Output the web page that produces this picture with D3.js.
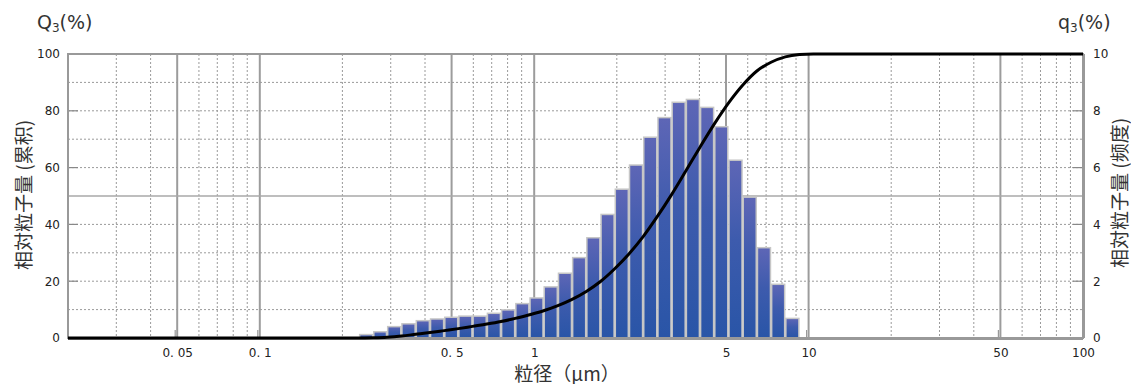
<!DOCTYPE html>
<html>
<head>
<meta charset="utf-8">
<script src="https://d3js.org/d3.v7.min.js"></script>
<title>粒度分布</title>
<style>
body {
	margin: 0;
	background: #fff;
}

#root {
	width: 1131px;
	height: 384px;
	display: block;
}

.tickText {
	font-family: "DejaVu Sans", sans-serif;
	font-size: 12px;
	fill: #222;
}

.cjkTitle {
	font-family: "Noto Sans CJK JP", sans-serif;
	font-size: 19px;
	fill: #333;
}

.unitTitle {
	font-family: "DejaVu Sans", sans-serif;
	font-size: 19px;
	fill: #333;
}
</style>
</head>
<body>
<svg id="root"></svg>

<script>
// histogram bins (µm) and frequency q3 (%)
let binEdges = [0.23, 0.259, 0.291, 0.328, 0.37, 0.417, 0.47, 0.529, 0.596, 0.672, 0.757, 0.853, 0.961,
	1.082, 1.22, 1.374, 1.548, 1.744, 1.965, 2.214, 2.495, 2.811, 3.167, 3.568, 4.02, 4.529, 5.103,
	5.749, 6.478, 7.298, 8.222, 9.264]
let q3Values = [0.12, 0.22, 0.40, 0.50, 0.61, 0.67, 0.73, 0.77, 0.77, 0.87, 0.99, 1.21, 1.41, 1.80,
	2.28, 2.83, 3.53, 4.35, 5.24, 6.09, 7.07, 7.76, 8.30, 8.40, 8.12, 7.44, 6.26, 4.96, 3.18, 1.89, 0.69]

// cumulative curve Q3 (%)
let cumSizes = [0.02, 0.23, 0.259, 0.291, 0.328, 0.37, 0.417, 0.47, 0.529, 0.596, 0.672, 0.757, 0.853,
	0.961, 1.082, 1.22, 1.374, 1.548, 1.744, 1.965, 2.214, 2.495, 2.811, 3.167, 3.568, 4.02, 4.529,
	5.103, 5.749, 6.478, 7.298, 8.222, 9.264, 10.4, 100]
let cumValues = [0, 0, 0.1, 0.3, 0.7, 1.3, 1.9, 2.6, 3.3, 4.1, 4.9, 5.8, 6.9, 8.2, 9.6, 11.4, 13.6,
	16.4, 19.9, 24.4, 29.6, 35.7, 42.8, 50.5, 58.8, 67.2, 75.3, 82.7, 89.0, 94.0, 97.1, 99.0, 99.8, 100, 100]

let xTickValues = [0.05, 0.1, 0.5, 1, 5, 10, 50, 100]
let xTickLabels = ['0. 05', '0. 1', '0. 5', '1', '5', '10', '50', '100']
let xMajorGrid = [0.05, 0.1, 0.5, 1, 5, 10, 50]
let xMinorGrid = [0.03, 0.04, 0.06, 0.07, 0.08, 0.09, 0.2, 0.3, 0.4, 0.6, 0.7, 0.8, 0.9,
	2, 3, 4, 6, 7, 8, 9, 20, 30, 40, 60, 70, 80, 90]
let leftTicks = [0, 20, 40, 60, 80, 100]
let rightTicks = [0, 2, 4, 6, 8, 10]
let yMinorGrid = [10, 20, 30, 40, 60, 70, 80, 90]
let yMajorGrid = [50]

let width = 1131, height = 384
let margin = {left: 68, right: 48, top: 54, bottom: 46}

let svg = d3.select('#root').attr('viewBox', '0 0 ' + width + ' ' + height)

let x = d3.scaleLog().domain([0.02, 100]).range([margin.left, width - margin.right])
let yLeft = d3.scaleLinear().domain([0, 100]).range([height - margin.bottom, margin.top])
let yRight = d3.scaleLinear().domain([0, 10]).range([height - margin.bottom, margin.top])

let x0 = margin.left, x1 = width - margin.right
let y0 = height - margin.bottom, y1 = margin.top

// gradient for the bars
let grad = svg.append('defs').append('linearGradient')
	.attr('id', 'barFill')
	.attr('x1', 0).attr('y1', 0).attr('x2', 0).attr('y2', 1)
grad.append('stop').attr('offset', '0%').attr('stop-color', '#5e66b6')
grad.append('stop').attr('offset', '45%').attr('stop-color', '#3d5bad')
grad.append('stop').attr('offset', '100%').attr('stop-color', '#2955a7')

// grid
let grid = svg.append('g')

grid.selectAll('.vMinor').data(xMinorGrid).enter().append('line')
	.attr('x1', d => x(d)).attr('x2', d => x(d))
	.attr('y1', y1).attr('y2', y0)
	.attr('stroke', '#9a9a9a').attr('stroke-width', 1).attr('stroke-dasharray', '2,2')

grid.selectAll('.hMinor').data(yMinorGrid).enter().append('line')
	.attr('x1', x0).attr('x2', x1)
	.attr('y1', d => yLeft(d)).attr('y2', d => yLeft(d))
	.attr('stroke', '#9a9a9a').attr('stroke-width', 1).attr('stroke-dasharray', '2,2')

grid.selectAll('.vMajor').data(xMajorGrid).enter().append('line')
	.attr('x1', d => x(d)).attr('x2', d => x(d))
	.attr('y1', y1).attr('y2', y0)
	.attr('stroke', '#9c9c9c').attr('stroke-width', 2)

grid.selectAll('.hMajor').data(yMajorGrid).enter().append('line')
	.attr('x1', x0).attr('x2', x1)
	.attr('y1', d => yLeft(d)).attr('y2', d => yLeft(d))
	.attr('stroke', '#a8a8a8').attr('stroke-width', 1.5)

// small inner ticks
grid.selectAll('.lTick').data(leftTicks).enter().append('line')
	.attr('x1', x0).attr('x2', x0 + 10)
	.attr('y1', d => yLeft(d)).attr('y2', d => yLeft(d))
	.attr('stroke', '#888').attr('stroke-width', 1.2)
grid.selectAll('.rTick').data(rightTicks).enter().append('line')
	.attr('x1', x1 - 10).attr('x2', x1)
	.attr('y1', d => yRight(d)).attr('y2', d => yRight(d))
	.attr('stroke', '#888').attr('stroke-width', 1.2)
grid.selectAll('.bTick').data(xMajorGrid).enter().append('line')
	.attr('x1', d => x(d) - 2).attr('x2', d => x(d) - 2)
	.attr('y1', y0 - 8).attr('y2', y0)
	.attr('stroke', '#999').attr('stroke-width', 1.2)

// bars
svg.append('g').selectAll('rect').data(q3Values).enter().append('rect')
	.attr('x', (d, i) => x(binEdges[i]) + 0.6)
	.attr('width', (d, i) => x(binEdges[i + 1]) - x(binEdges[i]) - 1.2)
	.attr('y', d => yRight(d))
	.attr('height', d => y0 - yRight(d))
	.attr('fill', 'url(#barFill)')
	.attr('stroke', '#c6c6c6').attr('stroke-width', 1.5)

// frame
svg.append('rect')
	.attr('x', x0).attr('y', y1)
	.attr('width', x1 - x0).attr('height', y0 - y1)
	.attr('fill', 'none').attr('stroke', '#999').attr('stroke-width', 2)
svg.append('line')
	.attr('x1', x0).attr('x2', x1).attr('y1', y0 + 0.5).attr('y2', y0 + 0.5)
	.attr('stroke', '#999').attr('stroke-width', 3)
svg.append('line')
	.attr('x1', x1 + 0.5).attr('x2', x1 + 0.5).attr('y1', y1).attr('y2', y0)
	.attr('stroke', '#999').attr('stroke-width', 3)

// cumulative line
let cumPoints = cumSizes.map((s, i) => [s, cumValues[i]])
let line = d3.line()
	.x(d => x(d[0]))
	.y(d => yLeft(d[1]))
	.curve(d3.curveMonotoneX)

svg.append('path')
	.datum(cumPoints)
	.attr('d', line)
	.attr('fill', 'none')
	.attr('stroke', '#000')
	.attr('stroke-width', 3)

// axes (labels only)
let bottomAxis = svg.append('g')
	.attr('transform', 'translate(0,' + y0 + ')')
	.call(d3.axisBottom(x).tickValues(xTickValues).tickFormat((d, i) => xTickLabels[i]).tickSize(0).tickPadding(10))
let leftAxis = svg.append('g')
	.attr('transform', 'translate(' + x0 + ',0)')
	.call(d3.axisLeft(yLeft).tickValues(leftTicks).tickSize(0).tickPadding(8))
let rightAxis = svg.append('g')
	.attr('transform', 'translate(' + x1 + ',0)')
	.call(d3.axisRight(yRight).tickValues(rightTicks).tickSize(0).tickPadding(10))

;[bottomAxis, leftAxis, rightAxis].forEach(a => {
	a.select('.domain').remove()
	a.selectAll('text').attr('class', 'tickText').attr('fill', null)
})

// titles
let qLeft = svg.append('text').attr('class', 'unitTitle').attr('x', 37).attr('y', 29)
qLeft.append('tspan').text('Q')
qLeft.append('tspan').attr('font-size', '12px').attr('dy', 3).text('3')
qLeft.append('tspan').attr('dy', -3).text('(%)')

let qRight = svg.append('text').attr('class', 'unitTitle').attr('x', 1058).attr('y', 29)
qRight.append('tspan').text('q')
qRight.append('tspan').attr('font-size', '12px').attr('dy', 3).text('3')
qRight.append('tspan').attr('dy', -3).text('(%)')

svg.append('text').attr('class', 'cjkTitle')
	.attr('transform', 'translate(22,195) rotate(-90)')
	.attr('text-anchor', 'middle').attr('dominant-baseline', 'central')
	.text('相対粒子量 (累积)')

svg.append('text').attr('class', 'cjkTitle')
	.attr('transform', 'translate(1118,193) rotate(-90)')
	.attr('text-anchor', 'middle').attr('dominant-baseline', 'central')
	.attr('font-size', '18px')
	.text('相対粒子量 (频度)')

svg.append('text').attr('class', 'cjkTitle')
	.attr('x', 567).attr('y', 372)
	.attr('text-anchor', 'middle').attr('dominant-baseline', 'central')
	.text('粒径（μm）')
</script>
</body>
</html>
